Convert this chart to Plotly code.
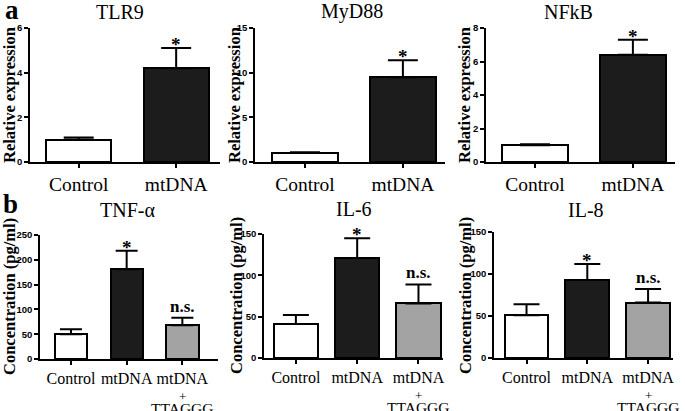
import plotly.graph_objects as go

# ---------------- data ----------------
top_categories = ["Control", "mtDNA"]
bottom_categories = ["Control", "mtDNA", "mtDNA + TTAGGG"]
bottom_tick_text = ["Control", "mtDNA", "mtDNA"]
bottom_extra_lines = ["+", "TTAGGG"]  # second/third line under the third category

tlr9_mean = [1.0, 4.2]
tlr9_err = [0.1, 0.9]
myd88_mean = [1.0, 9.5]
myd88_err = [0.08, 1.9]
nfkb_mean = [1.0, 6.4]
nfkb_err = [0.06, 0.9]

tnf_mean = [50, 181, 68]
tnf_err = [10, 37, 15]
il6_mean = [41, 121, 66]
il6_err = [11, 24, 23]
il8_mean = [51, 93, 66]
il8_err = [13, 19, 16]

top_marks = ["", "*"]
bottom_marks = ["", "*", "n.s."]

tlr9_ticks = [0, 2, 4, 6]
myd88_ticks = [0, 5, 10, 15]
nfkb_ticks = [0, 2, 4, 6, 8]
tnf_ticks = [0, 50, 100, 150, 200, 250]
il6_ticks = [0, 50, 100, 150]
il8_ticks = [0, 50, 100, 150]

# ---------------- layout helpers ----------------
W, H = 685, 411
SERIF = "Liberation Serif"
SANS = "Liberation Sans"
top_colors = ["white", "#1c1c1c"]
bottom_colors = ["white", "#1c1c1c", "#a3a3a3"]


def px_x(p):
    return p / W


def px_y(p):
    return 1 - p / H


panels = [
    dict(title="TLR9", cats=top_categories, ticktext=top_categories, mean=tlr9_mean, err=tlr9_err,
         ticks=tlr9_ticks, ymax=6, x0=30, x1=220, yt=28, yb=162, xr=[-0.5, 1.45], bw=0.67, cap=15,
         cf=19.5, colors=top_colors, marks=top_marks, ytitle="Relative expression", tpos=(120, 12), ytx=9),
    dict(title="MyD88", cats=top_categories, ticktext=top_categories, mean=myd88_mean, err=myd88_err,
         ticks=myd88_ticks, ymax=15, x0=255, x1=445, yt=28, yb=162, xr=[-0.51, 1.43], bw=0.67, cap=15,
         cf=19.5, colors=top_colors, marks=top_marks, ytitle="Relative expression", tpos=(352, 12), ytx=234),
    dict(title="NFkB", cats=top_categories, ticktext=top_categories, mean=nfkb_mean, err=nfkb_err,
         ticks=nfkb_ticks, ymax=8, x0=486, x1=675, yt=28, yb=162, xr=[-0.5, 1.43], bw=0.67, cap=15,
         cf=19.5, colors=top_colors, marks=top_marks, ytitle="Relative expression", tpos=(568, 12), ytx=464),
    dict(title="TNF-α", cats=bottom_categories, ticktext=bottom_tick_text, mean=tnf_mean, err=tnf_err,
         ticks=tnf_ticks, ymax=250, x0=40, x1=218, yt=235, yb=359, xr=[-0.556, 2.64], bw=0.58, cap=11,
         cf=16, colors=bottom_colors, marks=bottom_marks, ytitle="Concentration (pg/ml)", tpos=(127, 210), ytx=9),
    dict(title="IL-6", cats=bottom_categories, ticktext=bottom_tick_text, mean=il6_mean, err=il6_err,
         ticks=il6_ticks, ymax=150, x0=264, x1=443, yt=234, yb=358, xr=[-0.52, 2.40], bw=0.72, cap=13,
         cf=16, colors=bottom_colors, marks=bottom_marks, ytitle="Concentration (pg/ml)", tpos=(354, 209), ytx=236),
    dict(title="IL-8", cats=bottom_categories, ticktext=bottom_tick_text, mean=il8_mean, err=il8_err,
         ticks=il8_ticks, ymax=150, x0=494, x1=673, yt=232, yb=358, xr=[-0.535, 2.41], bw=0.72, cap=13,
         cf=16, colors=bottom_colors, marks=bottom_marks, ytitle="Concentration (pg/ml)", tpos=(586, 210), ytx=465),
]

fig = go.Figure()
layout = dict(
    width=W, height=H,
    margin=dict(l=0, r=0, t=0, b=0, pad=0),
    paper_bgcolor="white", plot_bgcolor="white",
    showlegend=False,
    bargap=0,
)
annotations = []

for i, p in enumerate(panels):
    n = i + 1
    xa = "x" if n == 1 else f"x{n}"
    ya = "y" if n == 1 else f"y{n}"
    fig.add_trace(go.Bar(
        x=p["cats"], y=p["mean"], xaxis=xa, yaxis=ya,
        width=p["bw"],
        marker=dict(color=p["colors"], line=dict(color="black", width=2)),
        error_y=dict(type="data", array=p["err"], arrayminus=[0] * len(p["err"]),
                     symmetric=False, color="black", thickness=2, width=p["cap"]),
        hoverinfo="skip",
    ))
    layout[f"xaxis{'' if n == 1 else n}"] = dict(
        domain=[px_x(p["x0"]), px_x(p["x1"])],
        anchor=ya, type="category", range=p["xr"],
        categoryorder="array", categoryarray=p["cats"],
        tickvals=p["cats"], ticktext=p["ticktext"],
        automargin=False,
        showline=True, linecolor="black", linewidth=1.5,
        ticks="outside", ticklen=4, tickwidth=1.5, tickcolor="black",
        tickangle=0,
        tickfont=dict(family=SERIF, size=p["cf"], color="black"),
        showgrid=False, zeroline=False, fixedrange=True,
    )
    layout[f"yaxis{'' if n == 1 else n}"] = dict(
        domain=[px_y(p["yb"]), px_y(p["yt"])],
        anchor=xa, range=[0, p["ymax"]],
        automargin=False,
        tickvals=p["ticks"],
        showline=True, linecolor="black", linewidth=1.5,
        ticks="outside", ticklen=4, tickwidth=1.5, tickcolor="black",
        tickfont=dict(family=SANS, size=9.5, color="black", weight="bold"),
        showgrid=False, zeroline=False, fixedrange=True,
    )
    # panel title
    annotations.append(dict(
        text=p["title"], xref="paper", yref="paper",
        x=px_x(p["tpos"][0]), y=px_y(p["tpos"][1]),
        xanchor="center", yanchor="middle", showarrow=False,
        font=dict(family=SERIF, size=20, color="black"),
    ))
    # y-axis title
    annotations.append(dict(
        text=p["ytitle"], xref="paper", yref="paper",
        x=px_x(p["ytx"]), y=px_y((p["yt"] + p["yb"]) / 2),
        xanchor="center", yanchor="middle", showarrow=False, textangle=-90,
        font=dict(family=SERIF, size=16.5, color="black", weight="bold"),
    ))
    # significance marks
    for c, m, e, mk in zip(p["cats"], p["mean"], p["err"], p["marks"]):
        if not mk:
            continue
        annotations.append(dict(
            text=mk, xref=xa, yref=ya, x=c, y=m + e,
            xanchor="center", yanchor="bottom", showarrow=False,
            yshift=-9 if mk == "*" else 0,
            font=dict(family=SERIF, size=19 if mk == "*" else 17, color="black", weight="bold"),
        ))
    # extra lines of the third category label ("+" and "TTAGGG")
    if len(p["cats"]) == 3:
        for line, dy, fs in zip(bottom_extra_lines, [37, 49], [13, 15.5]):
            annotations.append(dict(
                text=line, xref=xa, yref="paper", x=p["cats"][2], y=px_y(p["yb"] + dy),
                xanchor="center", yanchor="middle", showarrow=False,
                font=dict(family=SERIF, size=fs, color="black"),
            ))

# panel letters
annotations.append(dict(text="a", xref="paper", yref="paper", x=px_x(12), y=px_y(10),
                        xanchor="center", yanchor="middle", showarrow=False,
                        font=dict(family=SERIF, size=27, color="black", weight="bold")))
annotations.append(dict(text="b", xref="paper", yref="paper", x=px_x(10), y=px_y(204),
                        xanchor="center", yanchor="middle", showarrow=False,
                        font=dict(family=SERIF, size=27, color="black", weight="bold")))

layout["annotations"] = annotations
fig.update_layout(**layout)
fig.write_html("out.html", config={"displayModeBar": False},
               post_script="document.body.style.margin='0';")
